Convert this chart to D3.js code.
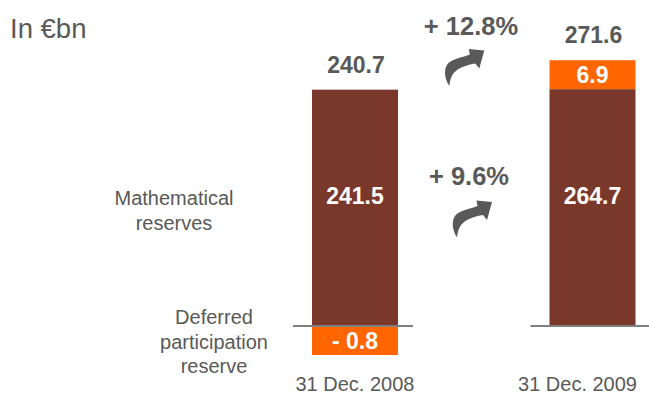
<!DOCTYPE html>
<html>
<head>
<meta charset="utf-8">
<script src="https://cdn.jsdelivr.net/npm/d3@7"></script>
<style>
  html, body { margin: 0; padding: 0; background: #fff; }
  svg { display: block; font-family: "Liberation Sans", Arial, Helvetica, sans-serif; }
</style>
</head>
<body>
<svg id="chart" width="649" height="396"></svg>
<script>
// Reporting dates (one stacked bar each)
const categories = ["31 Dec. 2008", "31 Dec. 2009"];
// Segment values in € billions
const mathematicalReserves = [241.5, 264.7];
const deferredParticipation = [-0.8, 6.9];
const totals = [240.7, 271.6];
// Year-on-year growth annotations
const growthLabels = ["+ 12.8%", "+ 9.6%"];
// Row labels on the left
const rowLabels = [["Mathematical", "reserves"], ["Deferred", "participation", "reserve"]];

const fmt = v => (v < 0 ? "- " + Math.abs(v).toFixed(1) : v.toFixed(1));

const COLORS = { main: "#7a382b", small: "#ff6600", text: "#595959", rule: "#808080" };
const W = 649, H = 396;
const baseY = 326;          // zero line
const barW = 86;
const minSeg = 29;          // smallest drawn height so thin segments stay legible

const svg = d3.select("#chart");

const x = d3.scalePoint().domain(categories).range([355, 592.5]);
const y = d3.scaleLinear().domain([0, 280]).range([baseY, baseY - 274]);

// Build the segment geometry for each bar
const bars = categories.map((c, i) => {
  const main = mathematicalReserves[i];
  const def = deferredParticipation[i];
  const posTotal = main + Math.max(def, 0);
  const top = y(posTotal);
  const segs = [];
  if (def >= 0) {
    const h = Math.max(y(0) - y(def), minSeg);
    segs.push({ cat: c, v: def, y0: top, y1: top + h, color: COLORS.small });
    segs.push({ cat: c, v: main, y0: top + h, y1: y(0), color: COLORS.main });
  } else {
    segs.push({ cat: c, v: main, y0: top, y1: y(0), color: COLORS.main });
    const h = Math.max(y(def) - y(0), minSeg);
    segs.push({ cat: c, v: def, y0: y(0), y1: y(0) + h, color: COLORS.small });
  }
  return { cat: c, total: totals[i], top, segs };
});

const allSegs = bars.flatMap(b => b.segs);

// Bars
svg.append("g").selectAll("rect")
  .data(allSegs)
  .join("rect")
  .attr("x", d => x(d.cat) - barW / 2)
  .attr("y", d => d.y0)
  .attr("width", barW)
  .attr("height", d => d.y1 - d.y0)
  .attr("fill", d => d.color);

// Zero lines under each bar
svg.append("g").selectAll("line")
  .data(categories)
  .join("line")
  .attr("x1", d => x(d) - barW / 2 - 19)
  .attr("x2", d => Math.min(x(d) + barW / 2 + 15, W))
  .attr("y1", baseY)
  .attr("y2", baseY)
  .attr("stroke", COLORS.rule)
  .attr("stroke-width", 2);

// Segment value labels
svg.append("g").selectAll("text")
  .data(allSegs)
  .join("text")
  .attr("x", d => x(d.cat))
  .attr("y", d => d.color === COLORS.main ? (d.y0 + d.y1) / 2 - 4 : (d.y0 + d.y1) / 2 + 8.5)
  .attr("text-anchor", "middle")
  .attr("fill", "#fff")
  .attr("font-weight", "bold")
  .attr("font-size", 23)
  .text(d => fmt(d.v));

// Totals above each bar
svg.append("g").selectAll("text")
  .data(bars)
  .join("text")
  .attr("x", d => x(d.cat) + 1)
  .attr("y", d => d.top - 17)
  .attr("text-anchor", "middle")
  .attr("fill", COLORS.text)
  .attr("font-weight", "bold")
  .attr("font-size", 23)
  .text(d => fmt(d.total));

// Category labels, kept inside the right edge
svg.append("g").selectAll("text")
  .data(categories)
  .join("text")
  .attr("y", 391)
  .attr("text-anchor", "middle")
  .attr("fill", COLORS.text)
  .attr("font-size", 20)
  .text(d => d)
  .attr("x", function (d) {
    const half = this.getComputedTextLength() / 2;
    return Math.min(x(d), W - 12 - half);
  });

// Unit
svg.append("text")
  .attr("x", 10).attr("y", 38)
  .attr("fill", COLORS.text)
  .attr("font-size", 27.5)
  .text("In €bn");

// Row labels
const rowPos = [{ cx: 174, y: 205 }, { cx: 214, y: 324 }];
rowLabels.forEach((lines, i) => {
  svg.append("text")
    .attr("x", rowPos[i].cx)
    .attr("y", rowPos[i].y)
    .attr("text-anchor", "middle")
    .attr("fill", COLORS.text)
    .attr("font-size", 20)
    .selectAll("tspan")
    .data(lines)
    .join("tspan")
    .attr("x", rowPos[i].cx)
    .attr("dy", (d, j) => j === 0 ? 0 : 24.5)
    .text(d => d);
});

// Growth annotations with curved arrows
const growthPos = [{ cx: 471, y: 35, ax: 449.3, ay: 86 }, { cx: 469, y: 185, ax: 457, ay: 237.5 }];
const arrowPath = "M0,0 C-6,-9 -6,-21 2,-25 C8,-28 14,-29 20.5,-31.5 L19.5,-37 L35,-35.5 L30,-17.5 " +
                  "L26,-22.5 C18,-21 9,-18.5 4,-12.5 C1.5,-9 0.5,-5 0,0 Z";
const g = svg.append("g");
g.selectAll("text")
  .data(growthLabels)
  .join("text")
  .attr("x", (d, i) => growthPos[i].cx)
  .attr("y", (d, i) => growthPos[i].y)
  .attr("text-anchor", "middle")
  .attr("fill", COLORS.text)
  .attr("font-weight", "bold")
  .attr("font-size", 25.5)
  .text(d => d);
g.selectAll("path")
  .data(growthLabels)
  .join("path")
  .attr("transform", (d, i) => `translate(${growthPos[i].ax},${growthPos[i].ay})`)
  .attr("d", arrowPath)
  .attr("fill", "#595959");
</script>
</body>
</html>
